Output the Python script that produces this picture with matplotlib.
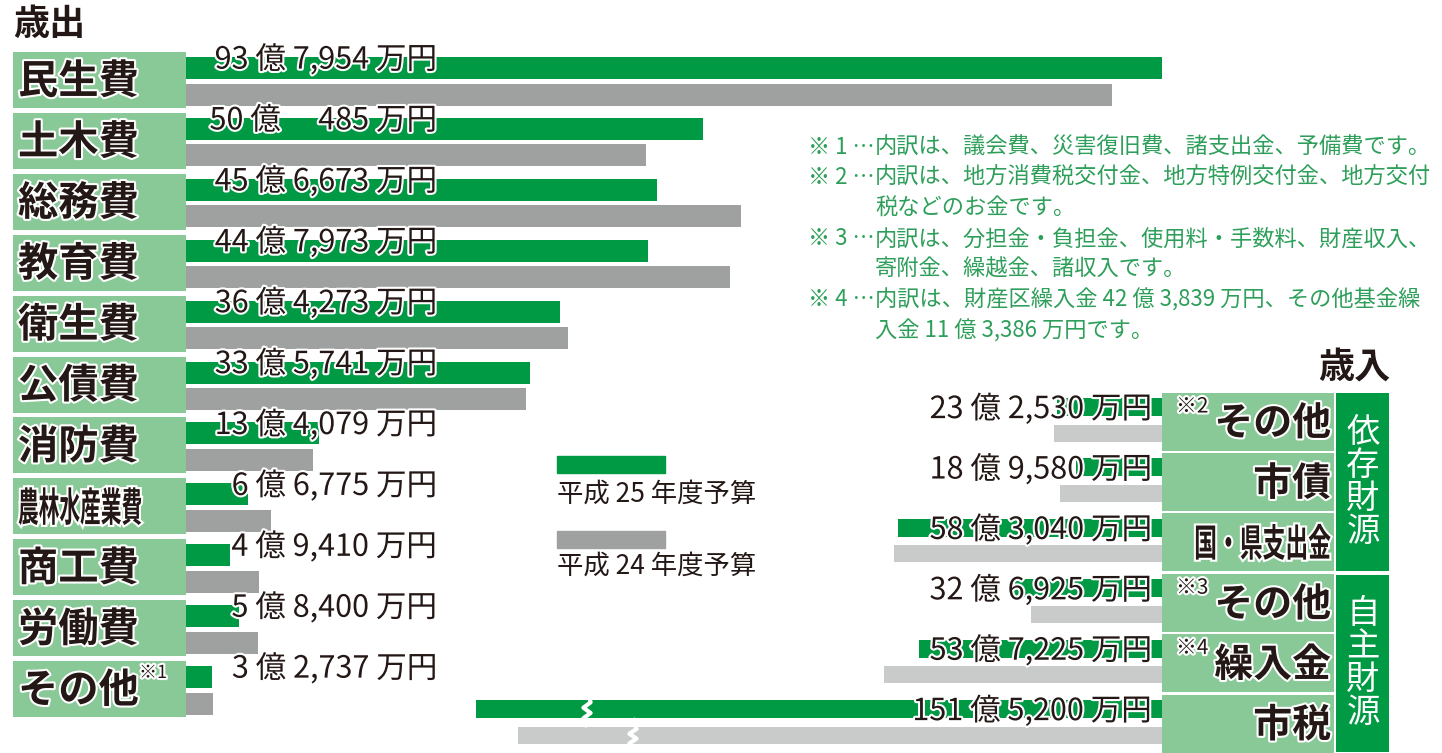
import matplotlib
matplotlib.use('Agg')
import matplotlib.pyplot as plt
import matplotlib.patheffects as pe
from matplotlib.patches import Rectangle, PathPatch
from matplotlib.textpath import TextPath
from matplotlib.font_manager import FontProperties
from matplotlib.transforms import Affine2D

plt.rcParams['font.family'] = ['Noto Sans CJK JP', 'DejaVu Sans']

# ---------------- data (億円) ----------------
exp_labels = ['民生費', '土木費', '総務費', '教育費', '衛生費', '公債費',
              '消防費', '農林水産業費', '商工費', '労働費', 'その他']
exp_h25 = [93.7954, 50.0485, 45.6673, 44.7973, 36.4273, 33.5741,
           13.4079, 6.6775, 4.9410, 5.8400, 3.2737]
exp_h24 = [89.0, 44.6, 53.7, 52.6, 37.2, 33.2, 12.9, 8.9, 7.7, 7.6, 3.3]
exp_values = ['93 億 7,954 万円', '50 億\u3000 485 万円', '45 億 6,673 万円',
              '44 億 7,973 万円', '36 億 4,273 万円', '33 億 5,741 万円',
              '13 億 4,079 万円', '6 億 6,775 万円', '4 億 9,410 万円',
              '5 億 8,400 万円', '3 億 2,737 万円']
exp_notes = [''] * 10 + ['※1']

rev_labels = ['その他', '市債', '国・県支出金', 'その他', '繰入金', '市税']
rev_notes = ['※2', '', '', '※3', '※4', '']
rev_h25 = [23.2530, 18.9580, 58.3040, 32.6925, 53.7225, 151.5200]
rev_h24 = [23.8, 22.5, 59.2, 28.9, 61.4, 142.2]
rev_values = ['23 億 2,530 万円', '18 億 9,580 万円', '58 億 3,040 万円',
              '32 億 6,925 万円', '53 億 7,225 万円', '151 億 5,200 万円']
rev_groups = ['依存財源', '自主財源']

legend_labels = ['平成 25 年度予算', '平成 24 年度予算']

footnotes = [
    ('※ 1 …', '内訳は、議会費、災害復旧費、諸支出金、予備費です。'),
    ('※ 2 …', '内訳は、地方消費税交付金、地方特例交付金、地方交付'),
    ('', '税などのお金です。'),
    ('※ 3 …', '内訳は、分担金・負担金、使用料・手数料、財産収入、'),
    ('', '寄附金、繰越金、諸収入です。'),
    ('※ 4 …', '内訳は、財産区繰入金 42 億 3,839 万円、その他基金繰'),
    ('', '入金 11 億 3,386 万円です。'),
]

# ---------------- style ----------------
GREEN = '#009944'
LIGHT = '#89c997'
GRAY_L = '#9fa0a0'
GRAY_R = '#c9caca'
NOTE = '#2e9f5a'
INK = '#231815'
W, H = 1442, 753
outline = [pe.withStroke(linewidth=3, foreground='white')]

fig = plt.figure(figsize=(W / 100, H / 100), dpi=100)


def fx(x):
    return x / W


def fy(y):
    return 1 - y / H


def squeezed(text, x, base, em_w, em_h):
    # condensed bold label drawn as a path (pixel coords, top-left origin)
    fp = FontProperties(family='Noto Sans CJK JP', weight='bold')
    tp = TextPath((0, 0), text, size=1, prop=fp)
    tr = Affine2D().scale(em_w, em_h).translate(x, H - base).scale(1 / 100) + fig.dpi_scale_trans
    fig.patches.append(PathPatch(tp, transform=tr, facecolor=INK, edgecolor='none',
                                 path_effects=outline, zorder=6))


# ---------------- 歳出 (left) ----------------
SL, X0L, PL, Y0L = 10.49, 178, 60.9, 80
axL = fig.add_axes([0, 0, 1, 1])
axL.set_xlim(-X0L / SL, (W - X0L) / SL)
axL.set_ylim((H - Y0L) / PL, -Y0L / PL)
axL.axis('off')
rowsL = list(range(len(exp_labels)))

axL.barh([r - 12 / PL for r in rowsL], exp_h25, height=22 / PL, color=GREEN, zorder=2)
axL.barh([r + 14.5 / PL for r in rowsL], exp_h24, height=22 / PL, color=GRAY_L, zorder=2)
axL.barh(rowsL, 173 / SL, left=(13 - X0L) / SL, height=56 / PL, color=LIGHT, zorder=3)

for r, lab in enumerate(exp_labels):
    if len(lab) > 3:
        squeezed(lab, 18, Y0L + r * PL + 15, 20.7, 40)
    else:
        axL.text((18 - X0L) / SL, r + 2 / PL, lab, fontsize=29, weight='bold', color=INK,
                 ha='left', va='center', path_effects=outline, zorder=6)
    axL.text((437 - X0L) / SL, r - 20 / PL, exp_values[r], fontsize=22, color=INK,
             ha='right', va='center', path_effects=outline, zorder=6)
    if exp_notes[r]:
        axL.text((139 - X0L) / SL, r - 16 / PL, exp_notes[r], fontsize=13, color=INK,
                 ha='left', va='center', path_effects=outline, zorder=6)

fig.text(fx(13), fy(24), '歳出', fontsize=26, weight='bold', color=INK, ha='left', va='center')

# ---------------- 歳入 (right) ----------------
SR, X0R, PR, Y0R = 4.53, 1162, 60.4, 421.5
axR = fig.add_axes([0, 0, 1, 1])
axR.set_xlim(X0R / SR, (X0R - W) / SR)
axR.set_ylim((H - Y0R) / PR, -Y0R / PR)
axR.axis('off')
rowsR = list(range(len(rev_labels)))

axR.barh([r - 14.5 / PR for r in rowsR], rev_h25, height=18 / PR, color=GREEN, zorder=2)
axR.barh([r + 11.5 / PR for r in rowsR], rev_h24, height=17 / PR, color=GRAY_R, zorder=2)
axR.barh(rowsR, -172 / SR, left=0, height=58 / PR, color=LIGHT, zorder=3)

# group boxes
for g, name in enumerate(rev_groups):
    axR.barh(g * 3 + 1, -(1389 - 1336) / SR, left=-(1336 - X0R) / SR,
             height=(3 * PR - 4) / PR, color=GREEN, zorder=3)
    cy = Y0R + (g * 3 + 1) * PR
    for k, ch in enumerate(name):
        fig.text(fx(1363), fy(cy + (k - 1.5) * 33), ch, fontsize=24, color='white',
                 ha='center', va='center')

# break marks on 市税 bars
for xb, yc, hh in [((X0R - 587) / SR, 5 - 14.5 / PR, 0.22), ((X0R - 633) / SR, 5 + 11.5 / PR, 0.2)]:
    xs = [xb, xb - 0.8, xb + 0.8, xb - 0.8, xb + 0.8, xb]
    ys = [yc - hh - 0.08, yc - hh * 0.5, yc - hh * 0.1, yc + hh * 0.3, yc + hh * 0.7, yc + hh + 0.08]
    axR.plot(xs, ys, color='white', lw=3, zorder=4, solid_capstyle='butt')

for r, lab in enumerate(rev_labels):
    if len(lab) > 3:
        width = 22.8 * len(lab)
        squeezed(lab, 1331 - width, Y0R + r * PR + 14, 22.8, 38)
    else:
        axR.text(-(1331 - X0R) / SR, r + 2 / PR, lab, fontsize=28, weight='bold', color=INK,
                 ha='right', va='center', path_effects=outline, zorder=6)
    axR.text((X0R - 1152) / SR, r - 12 / PR, rev_values[r], fontsize=22, color=INK,
             ha='right', va='center', path_effects=outline, zorder=6)
    if rev_notes[r]:
        axR.text(-(1176 - X0R) / SR, r - 15 / PR, rev_notes[r], fontsize=15, color=INK,
                 ha='left', va='center', path_effects=outline, zorder=6)

fig.text(fx(1390), fy(367), '歳入', fontsize=26, weight='bold', color=INK, ha='right', va='center')

# ---------------- legend ----------------
for k, (lab, col, ry, ty) in enumerate(zip(legend_labels, [GREEN, GRAY_L], [456, 531], [494, 566])):
    fig.patches.append(Rectangle((fx(557), fy(ry + 17)), 108 / W, 17 / H,
                                 transform=fig.transFigure, color=col))
    fig.text(fx(557), fy(ty), lab, fontsize=19, color=INK, ha='left', va='center')

# ---------------- footnotes ----------------
for k, (head, body) in enumerate(footnotes):
    y = 147 + k * 30.6
    if head:
        fig.text(fx(808), fy(y), head, fontsize=16, color=NOTE, ha='left', va='center')
    fig.text(fx(875), fy(y), body, fontsize=16, color=NOTE, ha='left', va='center')

fig.savefig('out.png', dpi=100)
